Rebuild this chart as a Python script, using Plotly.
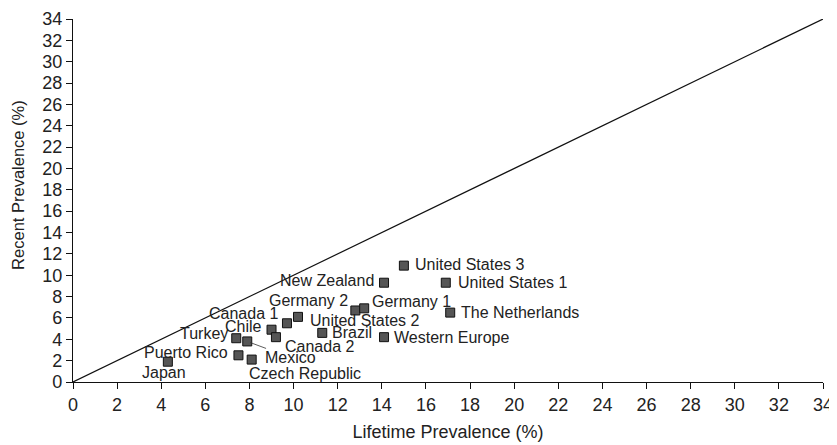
import plotly.graph_objects as go

# Data
countries = ["Japan", "Puerto Rico", "Czech Republic", "Turkey", "Mexico", "Chile",
             "Canada 2", "Canada 1", "United States 2", "Germany 2", "Germany 1",
             "Brazil", "Western Europe", "New Zealand", "United States 3",
             "United States 1", "The Netherlands"]
lifetime = [4.3, 7.5, 8.1, 7.4, 7.9, 9.0, 9.2, 9.7, 10.2, 12.8, 13.2, 11.3, 14.1, 14.1, 15.0, 16.9, 17.1]
recent = [1.9, 2.5, 2.1, 4.1, 3.8, 4.9, 4.2, 5.5, 6.1, 6.7, 6.9, 4.6, 4.2, 9.3, 10.9, 9.3, 6.5]
tick_vals = list(range(0, 35, 2))
diag = [0, 34]

# Label placement (pixel offsets, anchors)
label_anchor = ["center", "right", "left", "right", "left", "right", "left", "right", "left",
                "right", "left", "left", "left", "right", "left", "left", "left"]
label_dx = [-4, -9, -4, -7, 43, -9, 8, -8, 11, -6, 7, 9, 9, -9, 10, 11, 10]
label_dy = [-11, 3, -14, 5, -16, 3, -9, 10, -4, 10, 7, 0, 0, 2, 1, 0, 0]

FONT = "Liberation Sans, Arial, Helvetica, sans-serif"
TXT = "#222222"

fig = go.Figure()
fig.add_trace(go.Scatter(x=diag, y=diag, mode="lines",
                         line=dict(color="#111111", width=1.2),
                         hoverinfo="skip", showlegend=False))
fig.add_trace(go.Scatter(x=lifetime, y=recent, mode="markers",
                         marker=dict(symbol="square", size=9, color="#555555",
                                     line=dict(color="#111111", width=1)),
                         text=countries, showlegend=False, cliponaxis=False))

for name, xv, yv, anc, dx, dy in zip(countries, lifetime, recent, label_anchor, label_dx, label_dy):
    if name == "Mexico":
        fig.add_annotation(x=xv, y=yv, text=name, showarrow=True, arrowhead=0,
                           arrowwidth=0.8, arrowcolor="#333333", standoff=3,
                           ax=dx, ay=-dy, xanchor="center", yanchor="middle",
                           borderpad=0,
                           font=dict(family=FONT, size=16, color=TXT))
    else:
        fig.add_annotation(x=xv, y=yv, text=name, showarrow=False,
                           xanchor=anc, yanchor="middle", xshift=dx, yshift=dy,
                           borderpad=0,
                           font=dict(family=FONT, size=16, color=TXT))

# y-axis title (placed as a rotated annotation to match the reference position)
fig.add_annotation(xref="paper", yref="paper", x=0, y=0.543, xshift=-55,
                   text="Recent Prevalence (%)", textangle=-90, showarrow=False,
                   xanchor="center", yanchor="middle",
                   font=dict(family=FONT, size=16.5, color=TXT))

axis_common = dict(range=[0, 34], tickvals=tick_vals, ticks="outside", ticklen=6,
                   tickwidth=1, tickcolor="#111111", showline=True, linecolor="#111111",
                   linewidth=1.2, showgrid=False, zeroline=False, automargin=False,
                   tickfont=dict(family=FONT, size=18, color=TXT))

fig.update_xaxes(**axis_common,
                 title=dict(text="Lifetime Prevalence (%)", standoff=11,
                            font=dict(family=FONT, size=18, color=TXT)))
fig.update_yaxes(**axis_common)

fig.update_layout(width=829, height=437, plot_bgcolor="white", paper_bgcolor="white",
                  margin=dict(l=65, r=14, t=11, b=63), showlegend=False)

fig.write_html("out.html")
